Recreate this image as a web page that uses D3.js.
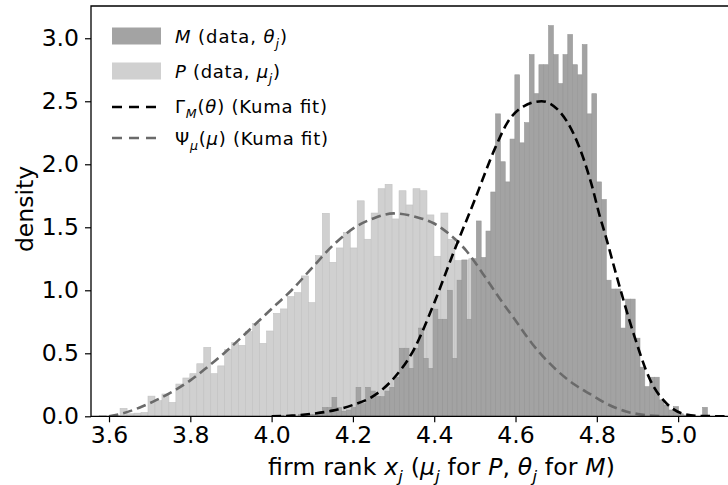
<!DOCTYPE html>
<html lang="en">
<head>
    <meta charset="UTF-8">
    <title>Firm rank densities</title>
    <script src="https://d3js.org/d3.v7.min.js"></script>
    <style>
        body { margin: 0; background: #fff; }
        text { font-family: "DejaVu Sans", sans-serif; fill: #000; }
    </style>
</head>
<body>
    <div id="chart"></div>
    <script>

        // P histogram (data, mu_j): first bin edge, bin width, densities
        const pStart = 3.5758;
        const pWidth = 0.017156;
        const pDensity = [
            0.008, 0.0, 0.008, 0.063, 0.02, 0.025, 0.03, 0.16, 0.124, 0.177,
            0.11, 0.256, 0.304, 0.338, 0.417, 0.547, 0.338, 0.40, 0.53, 0.584,
            0.563, 0.672, 0.738, 0.579, 0.677, 0.817, 0.852, 0.95, 0.981, 1.114,
            0.902, 1.275, 1.611, 1.222, 1.336, 1.46, 1.336, 1.71, 1.405, 1.613,
            1.806, 1.841, 1.566, 1.79, 1.677, 1.806, 1.79, 1.598, 1.27, 1.613,
            1.405, 1.235, 1.24, 1.25, 1.15, 1.02, 1.05, 0.92, 0.85, 0.8,
            0.7, 0.68, 0.6, 0.52, 0.45, 0.42, 0.36, 0.3, 0.26, 0.22,
            0.2, 0.15, 0.12, 0.1, 0.08, 0.06, 0.05, 0.03, 0.02, 0.01
        ];

        // M histogram (data, theta_j)
        const mStart = 4.0064;
        const mWidth = 0.011839;
        const mDensity = [
            0.0, 0.008, 0.0, 0.008, 0.0, 0.016, 0.008, 0.016, 0.016, 0.024,
            0.07, 0.07, 0.15, 0.07, 0.04, 0.05, 0.07, 0.23, 0.1, 0.23,
            0.2, 0.156, 0.156, 0.2, 0.23, 0.31, 0.54, 0.54, 0.38, 0.54,
            0.70, 0.46, 0.38, 0.85, 0.77, 0.77, 1.0, 0.46, 1.08, 1.24,
            0.77, 1.25, 1.55, 1.26, 1.47, 1.78, 2.40, 2.02, 1.86, 2.2,
            2.71, 2.17, 2.33, 2.87, 2.56, 2.79, 2.79, 3.10, 2.87, 2.64,
            2.87, 3.03, 2.79, 2.71, 2.95, 2.40, 2.56, 1.86, 1.72, 1.08,
            1.01, 1.01, 0.70, 0.93, 0.93, 0.62, 0.39, 0.235, 0.31, 0.31,
            0.13, 0.09, 0.05, 0.077, 0.02, 0.01, 0.0, 0.0, 0.0, 0.071
        ];

        // Kuma fit curves
        const gammaX = [4.00, 4.05, 4.10, 4.15, 4.20, 4.25, 4.30, 4.35, 4.40, 4.45, 4.50, 4.55, 4.58, 4.62, 4.664, 4.705, 4.746, 4.787, 4.808, 4.82, 4.849, 4.89, 4.931, 4.972, 5.013, 5.054, 5.13];
        const gammaY = [0.0, 0.005, 0.02, 0.045, 0.09, 0.16, 0.30, 0.53, 0.90, 1.32, 1.72, 2.13, 2.33, 2.46, 2.50, 2.43, 2.22, 1.84, 1.58, 1.45, 1.11, 0.66, 0.29, 0.10, 0.02, 0.003, 0.0];

        const psiX = [3.60, 3.635, 3.676, 3.717, 3.758, 3.80, 3.84, 3.881, 3.922, 3.963, 4.004, 4.049, 4.10, 4.152, 4.205, 4.25, 4.30, 4.357, 4.40, 4.439, 4.48, 4.52, 4.562, 4.60, 4.64, 4.70, 4.746, 4.787, 4.824, 4.87, 4.92, 4.96];
        const psiY = [0.0, 0.025, 0.07, 0.13, 0.2, 0.285, 0.385, 0.495, 0.615, 0.74, 0.865, 1.0, 1.18, 1.36, 1.50, 1.57, 1.61, 1.58, 1.53, 1.44, 1.31, 1.13, 0.93, 0.76, 0.58, 0.37, 0.25, 0.17, 0.1, 0.04, 0.01, 0.0];

        const xTicks = [3.6, 3.8, 4.0, 4.2, 4.4, 4.6, 4.8, 5.0];
        const yTicks = [0.0, 0.5, 1.0, 1.5, 2.0, 2.5, 3.0];

        const width = 728;
        const height = 485;
        const plotL = 91, plotR = 728, plotT = 6, plotB = 416.3;
        const tickFont = 23.5, labelFont = 23.5, legendFont = 18;

        const x = d3.scaleLinear().domain([3.5557, 5.1227]).range([plotL, plotR]);
        const y = d3.scaleLinear().domain([0, 3.256]).range([plotB, plotT]);

        const svg = d3.select("#chart")
            .append("svg")
            .attr("width", width)
            .attr("height", height);

        svg.append("clipPath").attr("id", "plot")
            .append("rect")
            .attr("x", plotL).attr("y", plotT)
            .attr("width", plotR - plotL).attr("height", plotB - plotT);

        const plot = svg.append("g").attr("clip-path", "url(#plot)");

        function bins(start, w, values) {
            return values.map((v, i) => ({ x0: start + i * w, x1: start + (i + 1) * w, v: v }));
        }

        // P bars first, M bars drawn over them
        plot.selectAll(".p-bar")
            .data(bins(pStart, pWidth, pDensity))
            .join("rect")
            .attr("class", "p-bar")
            .attr("x", d => x(d.x0))
            .attr("width", d => x(d.x1) - x(d.x0))
            .attr("y", d => y(d.v))
            .attr("height", d => y(0) - y(d.v))
            .attr("fill", "#d0d0d0")
            .attr("stroke", "#c2c2c2")
            .attr("stroke-width", 0.6);

        plot.selectAll(".m-bar")
            .data(bins(mStart, mWidth, mDensity))
            .join("rect")
            .attr("class", "m-bar")
            .attr("x", d => x(d.x0))
            .attr("width", d => x(d.x1) - x(d.x0))
            .attr("y", d => y(d.v))
            .attr("height", d => y(0) - y(d.v))
            .attr("fill", "#a3a3a3")
            .attr("stroke", "#979797")
            .attr("stroke-width", 0.6);

        const line = d3.line()
            .x(d => x(d[0]))
            .y(d => y(d[1]))
            .curve(d3.curveMonotoneX);

        plot.append("path")
            .datum(psiX.map((v, i) => [v, psiY[i]]))
            .attr("d", line)
            .attr("fill", "none")
            .attr("stroke", "#6a6a6a")
            .attr("stroke-width", 2.6)
            .attr("stroke-dasharray", "9.5,5");

        plot.append("path")
            .datum(gammaX.map((v, i) => [v, gammaY[i]]))
            .attr("d", line)
            .attr("fill", "none")
            .attr("stroke", "#000")
            .attr("stroke-width", 2.6)
            .attr("stroke-dasharray", "9.5,5");

        // axes
        const xAxis = svg.append("g")
            .attr("transform", `translate(0,${plotB})`)
            .call(d3.axisBottom(x).tickValues(xTicks).tickFormat(d3.format(".1f")).tickSize(6).tickPadding(4.5).tickSizeOuter(0));
        const yAxis = svg.append("g")
            .attr("transform", `translate(${plotL},0)`)
            .call(d3.axisLeft(y).tickValues(yTicks).tickFormat(d3.format(".1f")).tickSize(6).tickPadding(6).tickSizeOuter(0));

        [xAxis, yAxis].forEach(a => {
            a.select(".domain").remove();
            a.selectAll(".tick line").attr("stroke", "#000").attr("stroke-width", 1.2);
            a.selectAll(".tick text")
                .attr("font-size", tickFont)
                .attr("font-family", "DejaVu Sans, sans-serif")
                .attr("fill", "#000");
        });

        // spines
        svg.append("path")
            .attr("d", `M${plotR},${plotT}H${plotL}V${plotB}H${plotR}`)
            .attr("fill", "none")
            .attr("stroke", "#000")
            .attr("stroke-width", 1.3);

        // text with italic parts and subscripts
        function rich(sel, parts, size) {
            let shift = 0;
            parts.forEach(p => {
                const t = sel.append("tspan").text(p.t);
                if (p.i) t.attr("font-style", "italic");
                const want = p.s ? size * 0.3 : 0;
                if (want !== shift) { t.attr("dy", want - shift); shift = want; }
                if (p.s) t.attr("font-size", size * 0.7);
            });
        }

        // mathtext spaces its glyphs a little wider, so stretch to the measured widths
        const xLabel = svg.append("text")
            .attr("x", 268).attr("y", 475)
            .attr("font-size", labelFont)
            .attr("textLength", 347)
            .attr("lengthAdjust", "spacing");
        rich(xLabel, [
            { t: "firm rank " }, { t: "x", i: 1 }, { t: "j", i: 1, s: 1 },
            { t: " (" }, { t: "μ", i: 1 }, { t: "j", i: 1, s: 1 },
            { t: " for " }, { t: "P", i: 1 }, { t: ", " }, { t: "θ", i: 1 }, { t: "j", i: 1, s: 1 },
            { t: " for " }, { t: "M", i: 1 }, { t: ")" }
        ], labelFont);

        svg.append("text")
            .attr("transform", "translate(33,209) rotate(-90)")
            .attr("text-anchor", "middle")
            .attr("font-size", labelFont)
            .text("density");

        // legend
        const legendItems = [
            { kind: "patch", color: "#a3a3a3", cy: 36, dy: 7, w: 112, parts: [{ t: "M", i: 1 }, { t: " (data, " }, { t: "θ", i: 1 }, { t: "j", i: 1, s: 1 }, { t: ")" }] },
            { kind: "patch", color: "#d0d0d0", cy: 71, dy: 7, w: 105, parts: [{ t: "P", i: 1 }, { t: " (data, " }, { t: "μ", i: 1 }, { t: "j", i: 1, s: 1 }, { t: ")" }] },
            { kind: "line", color: "#000", cy: 107, dy: 6, w: 152, parts: [{ t: "Γ" }, { t: "M", i: 1, s: 1 }, { t: "(" }, { t: "θ", i: 1 }, { t: ") (Kuma fit)" }] },
            { kind: "line", color: "#6a6a6a", cy: 138, dy: 6.5, w: 153, parts: [{ t: "Ψ" }, { t: "μ", i: 1, s: 1 }, { t: "(" }, { t: "μ", i: 1 }, { t: ") (Kuma fit)" }] }
        ];

        const legend = svg.append("g");
        legendItems.forEach(d => {
            if (d.kind === "patch") {
                legend.append("rect")
                    .attr("x", 112).attr("y", d.cy - 8.5)
                    .attr("width", 49).attr("height", 17)
                    .attr("fill", d.color);
            } else {
                legend.append("line")
                    .attr("x1", 112).attr("x2", 157)
                    .attr("y1", d.cy).attr("y2", d.cy)
                    .attr("stroke", d.color)
                    .attr("stroke-width", 2.6)
                    .attr("stroke-dasharray", "10,7");
            }
            const t = legend.append("text")
                .attr("x", 175).attr("y", d.cy + d.dy)
                .attr("font-size", legendFont)
                .attr("textLength", d.w)
                .attr("lengthAdjust", "spacing");
            rich(t, d.parts, legendFont);
        });

    </script>
</body>
</html>
